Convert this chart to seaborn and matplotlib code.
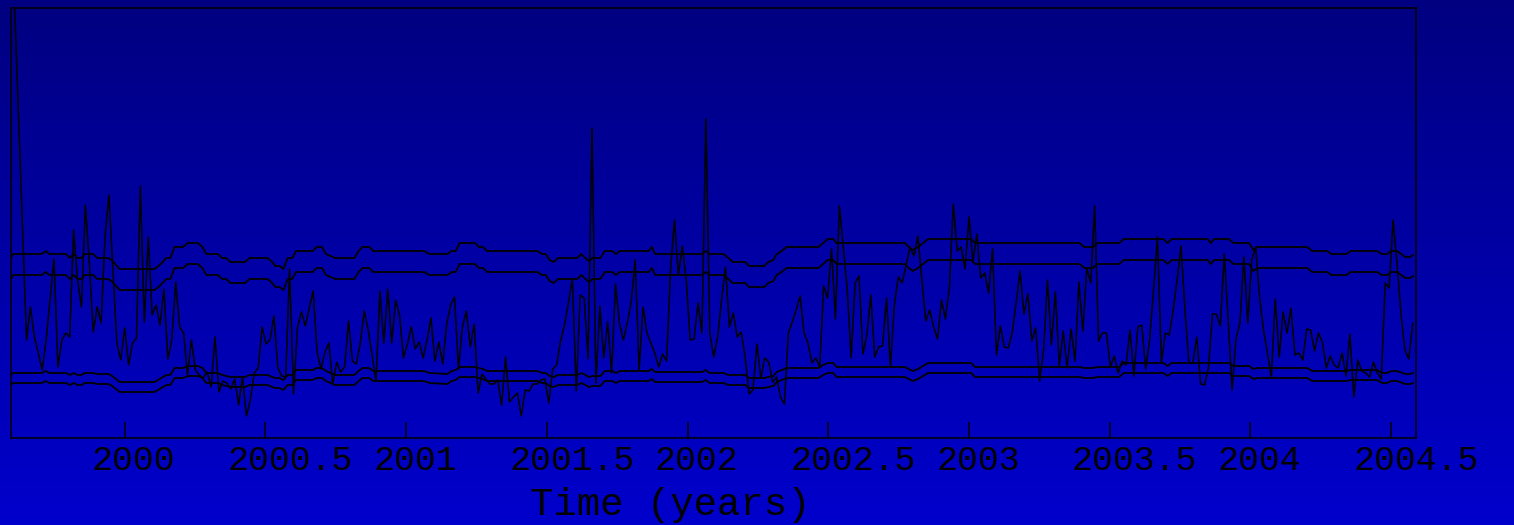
import numpy as np
import matplotlib
matplotlib.use("Agg")
import matplotlib.pyplot as plt
from matplotlib.colors import LinearSegmentedColormap
import seaborn as sns

# Observed index, sampled at a regular interval between the two dates below
series_start = 1999.609
series_end = 2004.577
index_values = [
    42.9, 31.9, 20.8, 9.8, 13.1, 10.1, 8.5, 6.8, 9.8, 13.8,
    17.9, 7.1, 9.8, 10.5, 10.1, 20.8, 15.8, 13.1, 23.3, 17.5,
    10.6, 13.1, 11.5, 20.1, 24.3, 16.8, 9.5, 7.8, 11.0, 7.3,
    9.5, 10.0, 25.2, 11.6, 20.1, 12.3, 13.3, 11.3, 14.9, 7.9,
    9.8, 15.6, 11.1, 10.5, 6.3, 9.8, 6.8, 6.3, 6.0, 6.6,
    5.1, 10.1, 4.6, 5.7, 5.5, 4.9, 5.9, 3.3, 6.1, 2.2,
    3.8, 6.5, 7.0, 11.1, 9.4, 9.8, 12.2, 7.0, 6.2, 6.1,
    16.9, 4.4, 11.1, 12.6, 11.2, 13.0, 14.7, 8.6, 6.9, 8.6,
    9.5, 5.4, 7.6, 6.6, 7.1, 11.7, 7.7, 7.4, 9.5, 12.7,
    10.8, 8.3, 5.7, 14.7, 9.5, 14.9, 9.5, 13.8, 12.3, 8.0,
    9.4, 11.1, 8.9, 9.6, 8.0, 9.8, 12.0, 7.7, 9.6, 7.4,
    11.4, 13.3, 14.1, 6.9, 11.1, 12.7, 9.1, 11.4, 4.5, 6.4,
    5.9, 5.4, 5.4, 5.8, 3.3, 8.1, 3.6, 4.1, 4.5, 2.2,
    4.8, 4.7, 5.4, 5.4, 5.8, 5.9, 3.5, 6.9, 7.3, 9.7,
    11.3, 13.5, 15.9, 4.7, 14.3, 14.0, 7.9, 31.0, 5.5, 13.2,
    8.0, 11.6, 6.5, 15.4, 11.5, 9.8, 11.5, 13.6, 17.8, 6.8,
    13.1, 10.5, 9.5, 8.5, 7.1, 8.4, 7.7, 16.8, 21.8, 16.3,
    19.2, 15.8, 9.8, 9.9, 13.5, 10.5, 31.9, 10.5, 8.1, 10.1,
    13.8, 17.1, 11.1, 12.5, 10.1, 10.6, 8.1, 4.4, 4.8, 9.4,
    6.0, 8.0, 7.6, 5.6, 6.1, 4.1, 3.4, 10.5, 11.6, 12.8,
    14.2, 10.5, 9.5, 7.5, 8.0, 7.1, 15.2, 14.0, 18.9, 11.9,
    23.2, 19.1, 14.8, 8.0, 15.5, 16.2, 8.4, 10.3, 14.3, 8.1,
    9.1, 9.2, 14.0, 7.1, 13.3, 16.1, 15.5, 17.3, 19.1, 18.2,
    20.2, 15.8, 11.7, 12.8, 11.1, 9.9, 13.8, 11.9, 15.0, 23.4,
    18.7, 19.1, 16.9, 22.1, 17.6, 20.4, 16.0, 16.5, 14.5, 18.9,
    8.3, 11.2, 9.1, 9.0, 10.5, 13.5, 16.7, 12.4, 14.4, 9.7,
    11.0, 5.7, 8.8, 15.8, 9.3, 14.6, 7.2, 10.7, 7.0, 10.9,
    7.7, 15.6, 10.7, 17.0, 15.5, 23.2, 9.7, 10.5, 10.5, 7.1,
    8.2, 6.5, 7.7, 7.3, 10.8, 6.2, 11.1, 11.3, 6.9, 9.8,
    14.8, 20.1, 7.5, 10.5, 10.3, 12.8, 15.8, 19.2, 12.8, 7.5,
    7.5, 10.1, 5.4, 5.3, 7.1, 12.4, 12.4, 11.2, 18.4, 11.8,
    4.8, 9.9, 11.5, 18.1, 11.5, 17.8, 19.1, 14.1, 10.8, 8.5,
    6.1, 13.9, 8.1, 12.6, 10.5, 13.0, 8.3, 8.5, 7.8, 10.9,
    10.8, 8.7, 10.5, 9.6, 7.0, 8.2, 7.3, 7.0, 8.5, 6.2,
    10.4, 4.1, 7.8, 6.7, 6.5, 6.1, 7.6, 6.5, 5.9, 15.5,
    15.0, 21.8, 17.5, 12.5, 8.8, 7.9, 11.5,
]

# Rolling band limits, given at their change points
band_years = [
    1999.596, 1999.604, 1999.705, 1999.720, 1999.732, 1999.791, 1999.805, 1999.819, 1999.832, 1999.846,
    1999.858, 1999.888, 1999.902, 1999.941, 1999.953, 1999.982, 2000.106, 2000.124, 2000.148, 2000.162,
    2000.177, 2000.207, 2000.224, 2000.260, 2000.276, 2000.290, 2000.331, 2000.346, 2000.361, 2000.375,
    2000.428, 2000.443, 2000.508, 2000.524, 2000.535, 2000.550, 2000.564, 2000.579, 2000.595, 2000.609,
    2000.668, 2000.682, 2000.701, 2000.715, 2000.748, 2000.816, 2000.831, 2000.845, 2000.869, 2000.883,
    2001.064, 2001.082, 2001.146, 2001.162, 2001.176, 2001.190, 2001.245, 2001.259, 2001.273, 2001.288,
    2001.466, 2001.483, 2001.496, 2001.510, 2001.524, 2001.540, 2001.607, 2001.623, 2001.637, 2001.649,
    2001.663, 2001.690, 2001.706, 2001.732, 2001.746, 2001.759, 2001.862, 2001.873, 2001.885, 2002.051,
    2002.065, 2002.078, 2002.128, 2002.145, 2002.160, 2002.205, 2002.219, 2002.273, 2002.287, 2002.305,
    2002.317, 2002.334, 2002.352, 2002.465, 2002.482, 2002.498, 2002.518, 2002.529, 2002.772, 2002.786,
    2002.801, 2002.819, 2002.837, 2002.855, 2003.008, 2003.022, 2003.393, 2003.410, 2003.440, 2003.457,
    2003.534, 2003.550, 2003.691, 2003.706, 2003.720, 2003.848, 2003.859, 2003.871, 2003.924, 2003.940,
    2003.995, 2004.011, 2004.025, 2004.202, 2004.220, 2004.273, 2004.287, 2004.342, 2004.356, 2004.450,
    2004.468, 2004.486, 2004.501, 2004.521, 2004.551, 2004.568, 2004.578,
]
upper_outer = [
    18.0, 18.4, 18.4, 18.7, 18.4, 18.4, 18.0, 18.4, 18.0, 18.0,
    18.4, 18.4, 18.0, 18.0, 17.8, 16.9, 16.9, 17.3, 18.0, 18.0,
    19.1, 19.1, 19.5, 19.5, 19.1, 18.4, 18.4, 18.0, 18.0, 17.6,
    17.6, 18.0, 18.0, 17.6, 17.2, 17.2, 16.9, 18.0, 18.0, 18.7,
    18.7, 19.1, 19.1, 18.4, 18.0, 18.0, 18.7, 19.1, 19.1, 18.7,
    18.7, 18.4, 18.4, 18.7, 18.7, 19.5, 19.5, 19.1, 19.1, 18.7,
    18.7, 18.4, 18.4, 17.8, 17.6, 18.0, 18.0, 18.4, 18.0, 17.7,
    18.0, 18.0, 18.7, 18.7, 18.4, 18.7, 18.7, 19.1, 18.4, 18.4,
    18.7, 18.4, 18.4, 18.0, 17.6, 17.6, 17.2, 17.2, 17.6, 17.8,
    18.4, 18.7, 19.1, 19.1, 19.5, 19.9, 19.9, 19.5, 19.5, 19.1,
    18.8, 19.1, 19.5, 19.9, 19.9, 19.5, 19.5, 19.1, 19.1, 19.5,
    19.5, 19.9, 19.9, 19.5, 19.9, 19.9, 19.5, 19.9, 19.9, 19.5,
    19.5, 18.8, 19.1, 19.1, 18.7, 18.7, 18.4, 18.4, 18.7, 18.7,
    18.4, 18.4, 18.7, 18.7, 18.1, 18.1, 18.3,
]
upper_inner = [
    15.9, 16.3, 16.3, 16.6, 16.3, 16.3, 15.9, 16.3, 15.9, 15.9,
    16.3, 16.3, 15.9, 15.9, 15.7, 14.8, 14.8, 15.2, 15.9, 15.9,
    17.0, 17.0, 17.4, 17.4, 17.0, 16.3, 16.3, 15.9, 15.9, 15.5,
    15.5, 15.9, 15.9, 15.5, 15.1, 15.1, 14.8, 15.9, 15.9, 16.6,
    16.6, 17.0, 17.0, 16.3, 15.9, 15.9, 16.6, 17.0, 17.0, 16.6,
    16.6, 16.3, 16.3, 16.6, 16.6, 17.4, 17.4, 17.0, 17.0, 16.6,
    16.6, 16.3, 16.3, 15.7, 15.5, 15.9, 15.9, 16.3, 15.9, 15.6,
    15.9, 15.9, 16.6, 16.6, 16.3, 16.6, 16.6, 17.0, 16.3, 16.3,
    16.6, 16.3, 16.3, 15.9, 15.5, 15.5, 15.1, 15.1, 15.5, 15.7,
    16.3, 16.6, 17.0, 17.0, 17.4, 17.8, 17.8, 17.4, 17.4, 17.0,
    16.7, 17.0, 17.4, 17.8, 17.8, 17.4, 17.4, 17.0, 17.0, 17.4,
    17.4, 17.8, 17.8, 17.4, 17.8, 17.8, 17.4, 17.8, 17.8, 17.4,
    17.4, 16.7, 17.0, 17.0, 16.6, 16.6, 16.3, 16.3, 16.6, 16.6,
    16.3, 16.3, 16.6, 16.6, 16.0, 16.0, 16.2,
]
lower_inner = [
    6.3, 6.5, 6.5, 6.7, 6.5, 6.5, 6.3, 6.5, 6.3, 6.3,
    6.5, 6.5, 6.4, 6.4, 6.25, 5.6, 5.6, 5.9, 6.3, 6.3,
    7.0, 7.0, 7.2, 7.2, 7.0, 6.5, 6.5, 6.3, 6.2, 6.1,
    6.1, 6.3, 6.3, 6.1, 6.0, 6.0, 5.8, 6.3, 6.3, 6.8,
    6.8, 7.0, 7.0, 6.7, 6.3, 6.3, 6.7, 7.0, 7.0, 6.7,
    6.7, 6.5, 6.4, 6.7, 6.8, 7.1, 7.1, 7.0, 6.9, 6.7,
    6.7, 6.5, 6.5, 6.2, 6.1, 6.3, 6.3, 6.5, 6.3, 6.1,
    6.2, 6.2, 6.7, 6.7, 6.5, 6.7, 6.7, 6.9, 6.6, 6.6,
    6.8, 6.5, 6.5, 6.3, 6.3, 6.3, 6.0, 6.0, 6.1, 6.2,
    6.6, 6.8, 7.0, 7.0, 7.3, 7.5, 7.5, 7.1, 7.1, 6.9,
    6.7, 6.9, 7.2, 7.5, 7.5, 7.1, 7.1, 7.0, 7.0, 7.1,
    7.1, 7.5, 7.5, 7.2, 7.5, 7.5, 7.5, 7.5, 7.5, 7.2,
    7.2, 6.9, 7.0, 7.0, 6.7, 6.7, 6.7, 6.7, 6.8, 6.8,
    6.5, 6.5, 6.7, 6.7, 6.4, 6.4, 6.5,
]
lower_outer = [
    5.3, 5.5, 5.5, 5.7, 5.5, 5.5, 5.3, 5.5, 5.3, 5.3,
    5.5, 5.5, 5.4, 5.4, 5.25, 4.6, 4.6, 4.9, 5.3, 5.3,
    6.0, 6.0, 6.2, 6.2, 6.0, 5.5, 5.5, 5.3, 5.2, 5.1,
    5.1, 5.3, 5.3, 5.1, 5.0, 5.0, 4.8, 5.3, 5.3, 5.8,
    5.8, 6.0, 6.0, 5.7, 5.3, 5.3, 5.7, 6.0, 6.0, 5.7,
    5.7, 5.5, 5.4, 5.7, 5.8, 6.1, 6.1, 6.0, 5.9, 5.7,
    5.7, 5.5, 5.5, 5.2, 5.1, 5.3, 5.3, 5.5, 5.3, 5.1,
    5.2, 5.2, 5.7, 5.7, 5.5, 5.7, 5.7, 5.9, 5.6, 5.6,
    5.8, 5.5, 5.5, 5.3, 5.3, 5.3, 5.0, 5.0, 5.1, 5.2,
    5.6, 5.8, 6.0, 6.0, 6.3, 6.5, 6.5, 6.1, 6.1, 5.9,
    5.7, 5.9, 6.2, 6.5, 6.5, 6.1, 6.1, 6.0, 6.0, 6.1,
    6.1, 6.5, 6.5, 6.2, 6.5, 6.5, 6.5, 6.5, 6.5, 6.2,
    6.2, 5.9, 6.0, 6.0, 5.7, 5.7, 5.7, 5.7, 5.8, 5.8,
    5.5, 5.5, 5.7, 5.7, 5.4, 5.4, 5.5,
]

tick_years = [2000.0, 2000.5, 2001.0, 2001.5, 2002.0, 2002.5, 2003.0, 2003.5, 2004.0, 2004.5]
tick_labels = ["2000", "2000.5", "2001", "2001.5", "2002", "2002.5", "2003", "2003.5", "2004", "2004.5"]
x_limits = (1999.594, 2004.578)
y_limits = (0.0, 43.0)

sns.set_theme(style="white")
plt.rcParams["font.family"] = ["Liberation Mono", "DejaVu Sans"]

W, H, DPI = 1514, 525, 100
fig = plt.figure(figsize=(W / DPI, H / DPI), dpi=DPI)

# vertical blue gradient behind everything
bg = fig.add_axes([0, 0, 1, 1], zorder=0)
shade = np.linspace(0.0, 1.0, 512).reshape(-1, 1)
blues = LinearSegmentedColormap.from_list("navy_to_blue", ["#000080", "#0000CC"])
bg.imshow(shade, aspect="auto", cmap=blues, extent=[0, 1, 0, 1], origin="upper")
bg.set_axis_off()

left, right, top, bottom = 10.5, 1416, 8, 438
ax = fig.add_axes([left / W, 1 - bottom / H, (right - left) / W, (bottom - top) / H], zorder=1)
ax.set_facecolor("none")

t = np.linspace(series_start, series_end, len(index_values))
sns.lineplot(x=t, y=index_values, color="black", linewidth=1.1, ax=ax)
for band in (upper_outer, upper_inner, lower_inner, lower_outer):
    sns.lineplot(x=band_years, y=band, color="black", linewidth=1.3, ax=ax)

ax.set_xlim(*x_limits)
ax.set_ylim(*y_limits)

# tick marks at the half-year positions, labels set slightly to the right of them
px_per_year = (right - left) / (x_limits[1] - x_limits[0])
label_pos = [y + (9 if len(s) == 4 else 25) / px_per_year for y, s in zip(tick_years, tick_labels)]
ax.set_xticks(tick_years, minor=True)
ax.set_xticks(label_pos, tick_labels)
ax.tick_params(axis="x", which="minor", direction="in", length=11.5, width=1.1,
               color="black", bottom=True, top=False)
ax.tick_params(axis="x", which="major", length=0, pad=4, labelsize=25,
               labelcolor="black", bottom=True)
ax.tick_params(axis="y", left=False, right=False, labelleft=False)
ax.set_yticks([])

for side in ax.spines.values():
    side.set_visible(True)
    side.set_color("black")
    side.set_linewidth(1.1)

ax.set_xlabel("Time (years)", fontsize=28, color="black")
ax.xaxis.label.set_verticalalignment("baseline")
ax.xaxis.set_label_coords((670 - left) / (right - left), (bottom - 515) / (bottom - top))
ax.set_ylabel("")

fig.savefig("out.png", dpi=DPI, facecolor=fig.get_facecolor())
